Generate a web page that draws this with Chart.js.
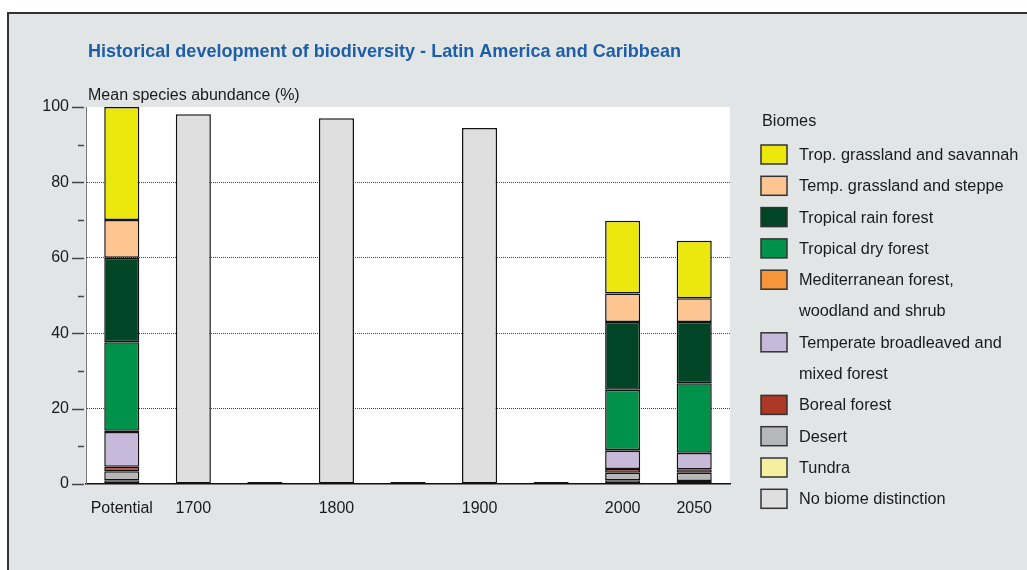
<!DOCTYPE html>
<html>
<head>
<meta charset="utf-8">
<script src="https://cdn.jsdelivr.net/npm/chart.js@4"></script>
<style>
  html, body { margin: 0; padding: 0; background: #fff; overflow: hidden; }
  #wrap { position: relative; width: 1027px; height: 570px; }
</style>
</head>
<body>
<div id="wrap"><canvas id="chart"></canvas></div>
<script>
// Categories (blank slots are years without data)
const categories = ['Potential', '1700', '', '1800', '', '1900', '', '2000', '2050'];

// Mean species abundance (%) per biome, stacked bottom -> top
const tundra        = [1.0,  null, null, null, null, null, null, 1.0,  0.8];
const desert        = [2.4,  null, null, null, null, null, null, 2.0,  2.2];
const boreal        = [1.2,  null, null, null, null, null, null, 1.0,  0.9];
const temperate     = [9.2,  null, null, null, null, null, null, 4.8,  4.3];
const mediterranean = [0.3,  null, null, null, null, null, null, 0.2,  0.1];
const dryForest     = [23.5, null, null, null, null, null, null, 16.0, 18.4];
const rainForest    = [22.4, null, null, null, null, null, null, 18.0, 16.3];
const tempGrass     = [10.0, null, null, null, null, null, null, 7.5,  6.3];
const tropGrass     = [30.0, null, null, null, null, null, null, 19.3, 15.2];
const noBiome       = [null, 98.1, 0,    97.0, 0,    94.4, 0,    null, null];

const yTicks = [0, 20, 40, 60, 80, 100];

const TITLE = 'Historical development of biodiversity - Latin America and Caribbean';
const Y_TITLE = 'Mean species abundance (%)';
const LEGEND_TITLE = 'Biomes';
const FONT = '"Liberation Sans", Arial, Helvetica, sans-serif';

Chart.defaults.font.family = FONT;
Chart.defaults.font.size = 16;
Chart.defaults.color = '#1a1a1a';

function biome(label, data, color) {
  return {
    label, data,
    backgroundColor: color,
    borderColor: '#111',
    borderWidth: 1.5,
    borderSkipped: false,
  };
}

const datasets = [
  biome('Tundra', tundra, '#f4f0a0'),
  biome('Desert', desert, '#b5b7b9'),
  biome('Boreal forest', boreal, '#ad3823'),
  biome('Temperate broadleaved and mixed forest', temperate, '#c7b9da'),
  biome('Mediterranean forest, woodland and shrub', mediterranean, '#f7953a'),
  biome('Tropical dry forest', dryForest, '#00924b'),
  biome('Tropical rain forest', rainForest, '#004526'),
  biome('Temp. grassland and steppe', tempGrass, '#fcc591'),
  biome('Trop. grassland and savannah', tropGrass, '#ece80d'),
  Object.assign(biome('No biome distinction', noBiome, '#dfdfe0'), { minBarLength: 2 }),
];

// legend runs top of stack first, "no biome" last
const legendOrder = [8, 7, 6, 5, 4, 3, 2, 1, 0, 9];

function wrapText(ctx, text, maxWidth) {
  const words = text.split(' ');
  const lines = [];
  let line = '';
  words.forEach(w => {
    const test = line ? line + ' ' + w : w;
    if (line && ctx.measureText(test).width > maxWidth) {
      lines.push(line);
      line = w;
    } else {
      line = test;
    }
  });
  if (line) lines.push(line);
  return lines;
}

const pagePlugin = {
  id: 'page',
  beforeDraw(chart) {
    const { ctx, width, height, chartArea: a } = chart;
    ctx.save();
    ctx.fillStyle = '#ffffff';
    ctx.fillRect(0, 0, width, height);
    ctx.fillStyle = '#e1e5e6';
    ctx.fillRect(9, 14, width - 9, height - 14);
    ctx.strokeStyle = '#333';
    ctx.lineWidth = 2;
    ctx.beginPath();
    ctx.moveTo(width, 13);
    ctx.lineTo(8, 13);
    ctx.lineTo(8, height);
    ctx.stroke();
    ctx.fillStyle = '#ffffff';
    ctx.fillRect(a.left, a.top, a.right - a.left, a.bottom - a.top);
    ctx.restore();
  },
  afterDraw(chart) {
    const { ctx } = chart;
    const y = chart.scales.y;
    ctx.save();

    // title, condensed like the original typeface
    ctx.font = 'bold 19px ' + FONT;
    ctx.fillStyle = '#1d5ea8';
    ctx.textBaseline = 'alphabetic';
    const tw = ctx.measureText(TITLE).width;
    ctx.save();
    ctx.translate(88, 57);
    ctx.scale(593 / tw, 1);
    ctx.fillText(TITLE, 0, 0);
    ctx.restore();

    ctx.font = '16px ' + FONT;
    ctx.fillStyle = '#1a1a1a';
    ctx.fillText(Y_TITLE, 88, 100);

    // y tick marks: long at labelled values, short in between
    ctx.strokeStyle = '#444';
    ctx.lineWidth = 1.5;
    y.ticks.forEach(t => {
      const py = Math.round(y.getPixelForValue(t.value)) + 0.5;
      const major = yTicks.includes(t.value);
      ctx.beginPath();
      ctx.moveTo(major ? 72 : 78, py);
      ctx.lineTo(84, py);
      ctx.stroke();
    });

    // legend
    ctx.font = '16.3px ' + FONT;
    ctx.fillStyle = '#1a1a1a';
    ctx.fillText(LEGEND_TITLE, 762, 126);
    ctx.textBaseline = 'middle';
    let row = 0;
    const rowH = 31.3;
    legendOrder.forEach(i => {
      const ds = chart.data.datasets[i];
      const cy = 154.5 + row * rowH;
      ctx.fillStyle = ds.backgroundColor;
      ctx.fillRect(761, cy - 9.5, 26, 19);
      ctx.strokeStyle = '#333';
      ctx.lineWidth = 1.5;
      ctx.strokeRect(761, cy - 9.5, 26, 19);
      ctx.fillStyle = '#1a1a1a';
      wrapText(ctx, ds.label, 228).forEach((line, k) => {
        ctx.fillText(line, 799, cy + 1 + k * rowH);
        if (k > 0) row++;
      });
      row++;
    });
    ctx.restore();
  }
};

new Chart(document.getElementById('chart'), {
  type: 'bar',
  data: { labels: categories, datasets },
  options: {
    responsive: true,
    maintainAspectRatio: false,
    animation: false,
    layout: { padding: { left: 0, top: 107, right: 297, bottom: 0 } },
    datasets: { bar: { categoryPercentage: 1, barPercentage: 0.49 } },
    plugins: { legend: { display: false }, tooltip: { enabled: false }, title: { display: false } },
    scales: {
      x: {
        stacked: true,
        grid: { display: false, drawTicks: false },
        border: { display: true, color: '#111', width: 1.5 },
        ticks: { padding: 15, maxRotation: 0, autoSkip: false, color: '#1a1a1a' },
        afterFit: s => { s.height = 86; },
      },
      y: {
        stacked: true,
        min: 0,
        max: 100,
        grid: {
          drawTicks: false,
          lineWidth: 1,
          color: c => (c.tick && c.tick.value > 0 && c.tick.value < 100 && yTicks.includes(c.tick.value)) ? '#444' : 'rgba(0,0,0,0)',
        },
        border: { display: true, color: '#777', width: 1, dash: [1, 1] },
        ticks: {
          stepSize: 10,
          padding: 17,
          color: '#1a1a1a',
          callback: v => yTicks.includes(v) ? v : '',
        },
        afterFit: s => { s.width = 86; },
      },
    },
  },
  plugins: [pagePlugin],
});
</script>
</body>
</html>
